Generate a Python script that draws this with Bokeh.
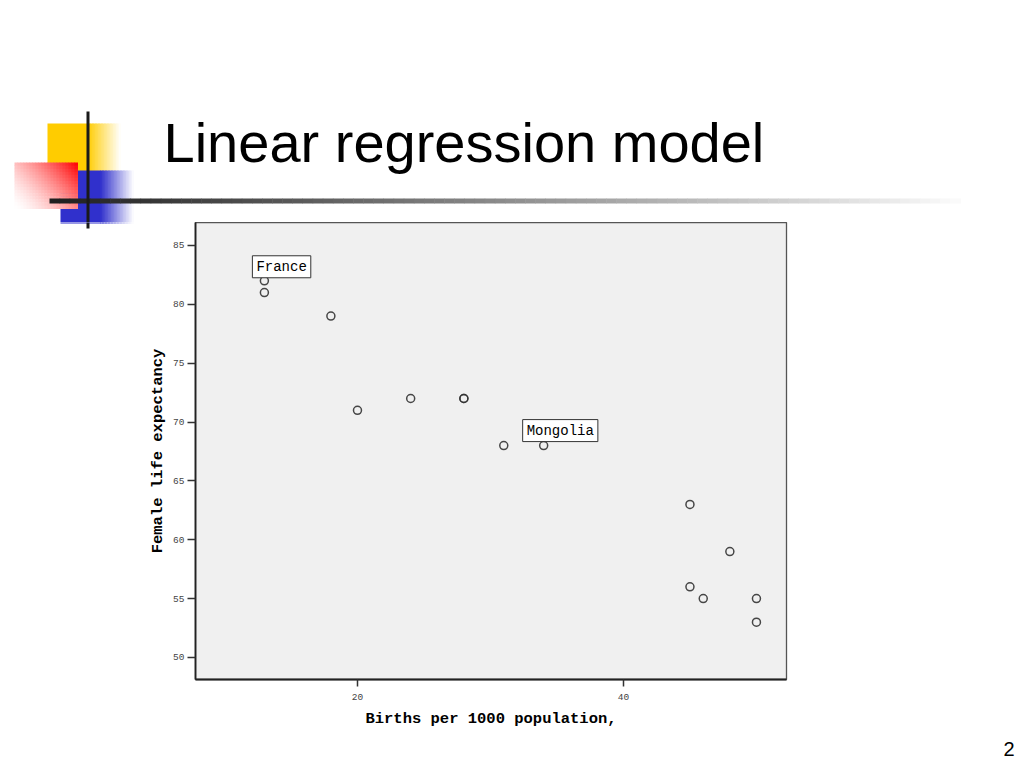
from bokeh.plotting import figure
from bokeh.models import Label, FixedTicker, Range1d
from bokeh.layouts import column, row
from bokeh.embed import file_html
from bokeh.resources import INLINE

# ---------------- data ----------------
births = [13, 13, 18, 20, 24, 28, 28, 31, 34, 45, 48, 45, 46, 50, 50]
life_expectancy = [82, 81, 79, 71, 72, 72, 72, 68, 68, 63, 59, 56, 55, 55, 53]
label_names = ["France", "Mongolia"]
label_births = [13, 34]
label_life = [82, 68]
x_ticks = [20, 40]
y_ticks = [50, 55, 60, 65, 70, 75, 80, 85]
title_text = "Linear regression model"
x_label = "Births per 1000 population,"
y_label = "Female life expectancy"
page_number = "2"

# ---------------- page geometry (pixels) ----------------
W, H = 1020, 766
TOP_H = 222                     # heading strip: 0 .. 222
MID_B = 735                     # middle row: 222 .. 735, footer strip: 735 .. 766
LEFT_W, SCAT_W = 140, 760       # middle row: left strip, scatter
FRAME_L, FRAME_R, FRAME_B = 195, 786, 679   # scatter frame on the page


def blank(width, height, x0, x1, y0, y1):
    f = figure(width=width, height=height, output_backend="svg", toolbar_location=None,
               x_range=Range1d(x0, x1), y_range=Range1d(y1, y0),
               x_axis_type=None, y_axis_type=None,
               min_border=0, min_border_left=0, min_border_right=0,
               min_border_top=0, min_border_bottom=0)
    f.outline_line_color = None
    f.background_fill_color = "white"
    f.border_fill_color = "white"
    f.xgrid.visible = False
    f.ygrid.visible = False
    return f


def mix(rgb, a):
    """opaque colour of rgb at opacity a over white"""
    return "#%02x%02x%02x" % tuple(int(round(255 - (255 - c) * a)) for c in rgb)


def decorate(f):
    L, R, T, B, C = [], [], [], [], []

    def add(x0, x1, y0, y1, c):
        L.append(x0); R.append(x1); T.append(y0); B.append(y1); C.append(c)

    yellow, blue, red = (255, 204, 0), (48, 48, 204), (255, 0, 0)
    n = 22
    # yellow block fading right
    add(47, 87.5, 123, 172, mix(yellow, 1))
    for i in range(n):
        x0 = 87 + i * 33 / n
        add(x0, x0 + 33 / n + 0.5, 123, 172, mix(yellow, 1 - (i + 0.5) / n))
    # blue block fading right
    add(60, 100.5, 170, 223, mix(blue, 1))
    for i in range(n):
        x0 = 100 + i * 33 / n
        add(x0, x0 + 33 / n + 0.5, 170, 223, mix(blue, 1 - (i + 0.5) / n))
    # red block: diagonal fade to white towards bottom-left
    nx, ny = 21, 15
    cw, ch = 63 / nx, 46 / ny
    for i in range(nx):
        for j in range(ny):
            a = 0.6 * (i + 0.5) / nx + 0.4 * (1 - (j + 0.5) / ny)
            a = max(0.0, min(1.0, a)) ** 1.5
            add(14 + i * cw, 14 + (i + 1) * cw + 0.5, 162 + j * ch, 162 + (j + 1) * ch + 0.5,
                mix(red, a))
    # horizontal rule fading to white
    m = 90
    for i in range(m):
        x0 = 49 + i * (960 - 49) / m
        g = int(30 + 222 * (i + 0.5) / m)
        add(x0, x0 + (960 - 49) / m + 0.5, 198, 203, "#%02x%02x%02x" % (g, g, g))
    # vertical rule
    add(86, 89, 111, 228, "#1a1a1a")
    f.quad(left=L, right=R, top=T, bottom=B, fill_color=C, line_color=None)


# ---------------- heading strip ----------------
top = blank(W, TOP_H, 0, W, 0, TOP_H)
decorate(top)
top.add_layout(Label(x=163, y=110, text=title_text, text_font="Liberation Sans",
                     text_font_size="56px", text_baseline="top", text_align="left",
                     text_color="black"))

# ---------------- left strip (rest of decoration) ----------------
# inside a row the frames are aligned with the scatter frame (222 .. 679)
left = blank(LEFT_W, MID_B - TOP_H, 0, LEFT_W, TOP_H, FRAME_B)
decorate(left)

# ---------------- footer strip (page number) ----------------
foot = blank(W, H - MID_B, 0, W, MID_B, H)
foot.add_layout(Label(x=1014, y=741, text=page_number, text_font="Liberation Sans",
                      text_font_size="20px", text_baseline="top", text_align="right",
                      text_color="black"))

# ---------------- scatter plot ----------------
p = figure(width=SCAT_W, height=MID_B - TOP_H, output_backend="svg", toolbar_location=None,
           x_range=Range1d(7.82, 52.26), y_range=Range1d(48.13, 86.95),
           min_border_left=FRAME_L - LEFT_W,
           min_border_right=LEFT_W + SCAT_W - FRAME_R,
           min_border_top=0, min_border_bottom=MID_B - FRAME_B)
p.background_fill_color = "#F0F0F0"
p.border_fill_color = "white"
p.outline_line_color = "#555555"
p.outline_line_width = 1.3
p.xgrid.visible = False
p.ygrid.visible = False

p.scatter(births, life_expectancy, marker="circle", size=8, fill_color=None,
          line_color="#333333", line_width=1.5, line_alpha=0.9)

offsets = [(-12, 3), (-21, 4)]
for name, bx, ly, (dx, dy) in zip(label_names, label_births, label_life, offsets):
    p.add_layout(Label(x=bx, y=ly, text=name, x_offset=dx, y_offset=dy,
                       text_font="Liberation Mono", text_font_size="14px",
                       text_align="left", text_baseline="bottom", text_color="black",
                       background_fill_color="white", border_line_color="#333333",
                       border_line_width=1, padding=(4, 3)))

p.xaxis.ticker = FixedTicker(ticks=x_ticks)
p.yaxis.ticker = FixedTicker(ticks=y_ticks)
for ax, tick_out, lstand, astand in ((p.xaxis, 7, 7, 7), (p.yaxis, 8, 3, 3)):
    ax.axis_line_color = "#222222"
    ax.axis_line_width = 1.8
    ax.major_tick_in = 0
    ax.major_tick_out = tick_out
    ax.major_tick_line_color = "#333333"
    ax.major_tick_line_width = 1.5
    ax.minor_tick_line_color = None
    ax.major_label_text_font = "Liberation Mono"
    ax.major_label_text_font_size = "9.5px"
    ax.major_label_text_color = "#444444"
    ax.major_label_standoff = lstand
    ax.axis_label_text_font = "Liberation Mono"
    ax.axis_label_text_font_style = "bold"
    ax.axis_label_text_font_size = "15.5px"
    ax.axis_label_text_color = "black"
    ax.axis_label_standoff = astand
p.xaxis.axis_label = x_label
p.yaxis.axis_label = y_label

page = column(top, row(left, p, spacing=0), foot, spacing=0)
open("out.html", "w").write(file_html(page, INLINE))
